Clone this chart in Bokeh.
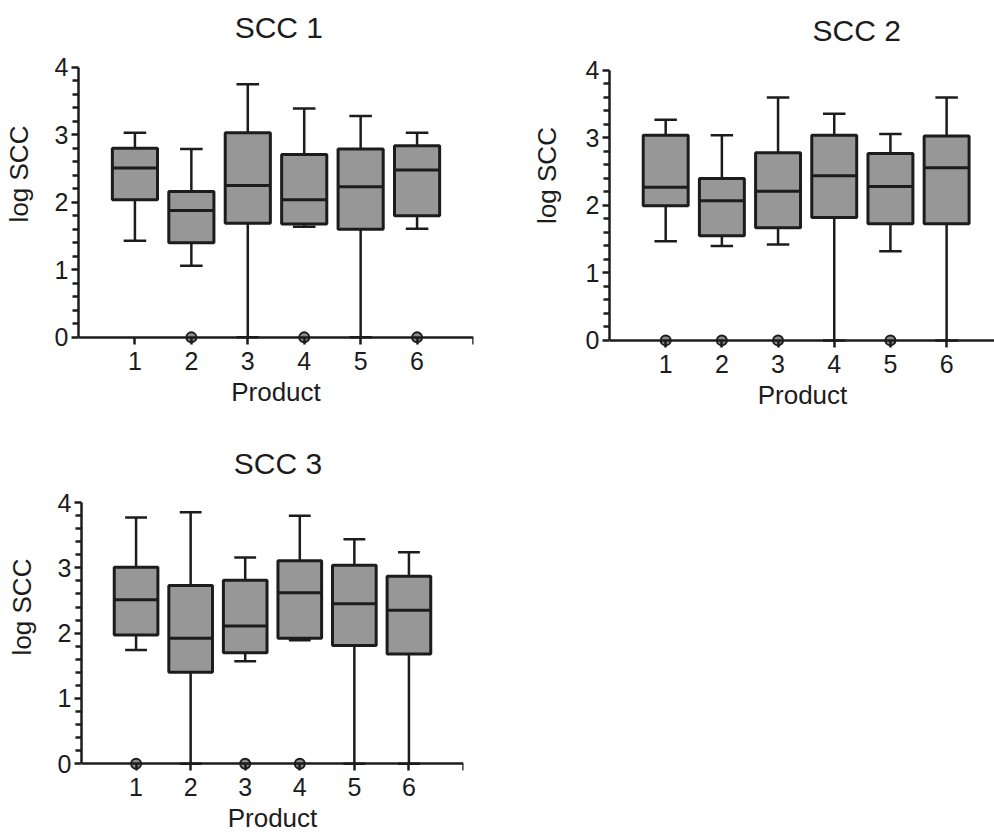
import numpy as np
from bokeh.plotting import figure
from bokeh.models import Range1d, FixedTicker, LinearAxis, Label
from bokeh.layouts import row, column
from bokeh.embed import file_html
from bokeh.resources import INLINE

products = [1, 2, 3, 4, 5, 6]
x_tick_labels = ["1", "2", "3", "4", "5", "6"]
y_ticks = [0, 1, 2, 3, 4]

# SCC 1
scc1_low = [1.43, 1.06, 0.0, 1.64, 0.0, 1.61]
scc1_q1 = [2.04, 1.40, 1.69, 1.68, 1.60, 1.80]
scc1_med = [2.51, 1.88, 2.25, 2.04, 2.23, 2.48]
scc1_q3 = [2.80, 2.16, 3.03, 2.71, 2.79, 2.84]
scc1_high = [3.03, 2.79, 3.75, 3.39, 3.28, 3.03]
scc1_out_x = [2, 4, 6]
scc1_out_y = [0.0, 0.0, 0.0]

# SCC 2
scc2_low = [1.47, 1.40, 1.42, 0.0, 1.32, 0.0]
scc2_q1 = [1.995, 1.55, 1.67, 1.82, 1.73, 1.73]
scc2_med = [2.27, 2.07, 2.21, 2.44, 2.28, 2.56]
scc2_q3 = [3.04, 2.40, 2.78, 3.04, 2.77, 3.03]
scc2_high = [3.27, 3.04, 3.60, 3.36, 3.06, 3.60]
scc2_out_x = [1, 2, 3, 5]
scc2_out_y = [0.0, 0.0, 0.0, 0.0]

# SCC 3
scc3_low = [1.74, 0.0, 1.57, 1.89, 0.0, 0.0]
scc3_q1 = [1.97, 1.40, 1.70, 1.92, 1.81, 1.68]
scc3_med = [2.51, 1.92, 2.11, 2.62, 2.45, 2.35]
scc3_q3 = [3.01, 2.73, 2.81, 3.11, 3.04, 2.87]
scc3_high = [3.77, 3.85, 3.16, 3.80, 3.44, 3.24]
scc3_out_x = [1, 3, 4]
scc3_out_y = [0.0, 0.0, 0.0]

FONT = "Liberation Sans"
INK = "#1c1c1c"
BOX_FILL = "#979797"
BOX_W = 0.8
CAP_W = 0.4
Y_MIN = -0.15


def panel(title, title_x, title_off, low, q1, med, q3, high, out_x, out_y,
          frame_w, frame_h, left, right, bottom, x_end, y_end,
          ylabel_standoff=18, end_tick=True):
    p = figure(frame_width=frame_w, frame_height=frame_h,
               output_backend="svg", toolbar_location=None,
               x_range=Range1d(0, x_end), y_range=Range1d(Y_MIN, y_end),
               min_border_left=left, min_border_right=right,
               min_border_top=0, min_border_bottom=bottom)
    p.outline_line_color = None
    p.grid.visible = False
    p.background_fill_color = "white"
    p.border_fill_color = "white"

    p.add_layout(Label(x=title_x, y=4.0, y_offset=title_off, text=title,
                       text_align="center", text_baseline="middle",
                       text_font=FONT, text_font_size="30px",
                       text_color=INK))

    x = np.array(products, dtype=float)
    # whiskers
    p.segment(x0=x, y0=low, x1=x, y1=q1, line_color=INK, line_width=2.5)
    p.segment(x0=x, y0=q3, x1=x, y1=high, line_color=INK, line_width=2.5)
    # caps
    p.segment(x0=x - CAP_W / 2, y0=high, x1=x + CAP_W / 2, y1=high,
              line_color=INK, line_width=2.5)
    p.segment(x0=x - CAP_W / 2, y0=low, x1=x + CAP_W / 2, y1=low,
              line_color=INK, line_width=2.5)
    # boxes
    p.vbar(x=x, width=BOX_W, bottom=q1, top=q3, fill_color=BOX_FILL,
           line_color=INK, line_width=3)
    # medians
    p.segment(x0=x - BOX_W / 2, y0=med, x1=x + BOX_W / 2, y1=med,
              line_color=INK, line_width=3)

    ticks = products + ([7] if end_tick else [])

    # visible x axis line + ticks at y = 0
    xline = LinearAxis(fixed_location=0,
                       ticker=FixedTicker(ticks=ticks, minor_ticks=[]),
                       bounds=(0, x_end))
    xline.major_label_text_font_size = "0px"
    xline.major_label_text_color = None
    xline.axis_line_color = INK
    xline.axis_line_width = 2.5
    xline.major_tick_line_color = INK
    xline.major_tick_line_width = 2.5
    xline.major_tick_in = 0
    xline.major_tick_out = 7
    xline.minor_tick_line_color = None
    p.add_layout(xline, "below")

    # label-only x axis at the frame bottom
    xa = p.xaxis[0]
    xa.ticker = FixedTicker(ticks=products, minor_ticks=[])
    xa.major_label_overrides = {i: s for i, s in zip(products, x_tick_labels)}
    xa.axis_line_color = None
    xa.major_tick_line_color = None
    xa.minor_tick_line_color = None
    xa.major_tick_in = 0
    xa.major_tick_out = 0
    xa.minor_tick_in = 0
    xa.minor_tick_out = 0
    xa.axis_label = "Product"
    xa.major_label_standoff = 4
    xa.axis_label_standoff = 4

    ya = p.yaxis[0]
    ya.ticker = FixedTicker(ticks=y_ticks,
                            minor_ticks=[round(0.2 * k, 1) for k in range(1, 20) if k % 5 != 0])
    ya.major_label_overrides = {t: str(t) for t in y_ticks}
    ya.bounds = (0, 4)
    ya.axis_label = "log SCC"
    ya.axis_line_color = INK
    ya.axis_line_width = 2.5
    ya.major_tick_line_color = INK
    ya.major_tick_line_width = 2.5
    ya.minor_tick_line_color = INK
    ya.minor_tick_line_width = 2.5
    ya.major_tick_in = 0
    ya.major_tick_out = 7
    ya.minor_tick_in = 0
    ya.minor_tick_out = 6
    ya.major_label_standoff = 3
    ya.axis_label_standoff = ylabel_standoff

    for ax in (xa, ya):
        ax.major_label_text_font = FONT
        ax.major_label_text_font_size = "25px"
        ax.major_label_text_color = INK
        ax.axis_label_text_font = FONT
        ax.axis_label_text_font_size = "26px"
        ax.axis_label_text_font_style = "normal"
        ax.axis_label_text_color = INK

    # outliers
    p.scatter(x=out_x, y=out_y, size=10, marker="circle",
              fill_color="#8c8c8c", line_color=INK, line_width=2)
    return p


p1 = panel("SCC 1", 3.55, 40, scc1_low, scc1_q1, scc1_med, scc1_q3, scc1_high,
           scc1_out_x, scc1_out_y, frame_w=395, frame_h=347,
           left=78, right=55, bottom=93, x_end=7.0, y_end=4.99)
p2 = panel("SCC 2", 4.4, 40, scc2_low, scc2_q1, scc2_med, scc2_q3, scc2_high,
           scc2_out_x, scc2_out_y, frame_w=386, frame_h=350,
           left=80, right=0, bottom=90, x_end=6.87, y_end=5.037,
           ylabel_standoff=21, end_tick=False)
p3 = panel("SCC 3", 3.6, 39, scc3_low, scc3_q1, scc3_med, scc3_q3, scc3_high,
           scc3_out_x, scc3_out_y, frame_w=382, frame_h=333,
           left=81, right=45, bottom=61, x_end=7.0, y_end=4.951)

layout = column(row(p1, p2), p3)
open("out.html", "w").write(file_html(layout, INLINE))
